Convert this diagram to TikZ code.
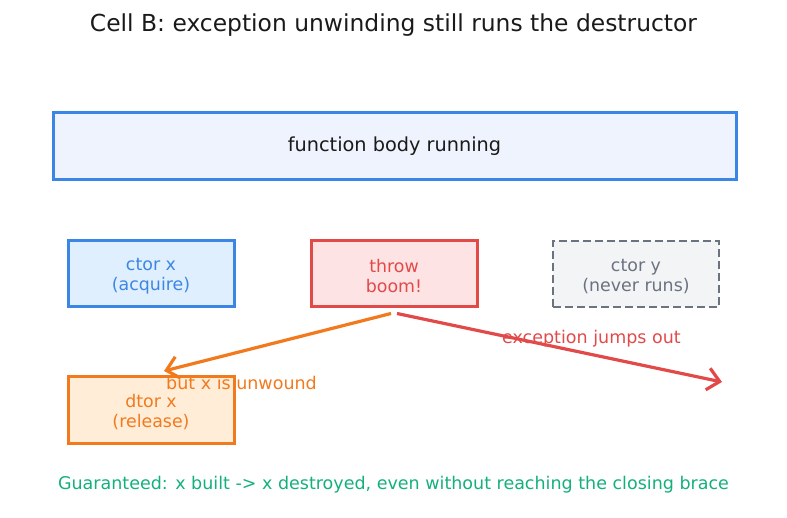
\documentclass[tikz,border=0pt]{standalone}
\usepackage{fontspec}
\setmainfont{DejaVu Sans}
\usetikzlibrary{arrows.meta}
\definecolor{cblue}{HTML}{3B86E5}
\definecolor{cbluefill}{HTML}{EEF3FD}
\definecolor{cbluefill2}{HTML}{E0EFFD}
\definecolor{cred}{HTML}{E24A4A}
\definecolor{credfill}{HTML}{FDE3E3}
\definecolor{cgray}{HTML}{6B7280}
\definecolor{cgrayfill}{HTML}{F3F4F6}
\definecolor{corange}{HTML}{F27A1E}
\definecolor{corangefill}{HTML}{FFEDD8}
\definecolor{cgreen}{HTML}{14B07C}
\definecolor{ctext}{HTML}{1A1A1A}
\begin{document}
\begin{tikzpicture}[x=1pt,y=-1pt,
  box/.style={draw, line width=3pt, minimum width=166pt, minimum height=66pt, align=center, inner sep=0pt, font=\fontsize{17.4}{20.5}\selectfont},
  twoline/.style={text height=37.5pt},
  arr/.style={line width=3.2pt, -{Straight Barb[length=12pt,width=22pt,line width=3.2pt]}},
  lbl/.style={font=\fontsize{17.5}{20.5}\selectfont, inner sep=0pt}]
\useasboundingbox (0,0) rectangle (787,518);
\node[font=\fontsize{23.4}{26}\selectfont, text=ctext] (title) at (393.5,25.5) {Cell B: exception unwinding still runs the destructor};
\node[box, draw=cblue, fill=cbluefill, text=ctext, minimum width=683pt, minimum height=67pt, font=\fontsize{19.3}{21}\selectfont] (body) at (394.5,146.5) {function body running};
\node[box, twoline, draw=cblue, fill=cbluefill2, text=cblue] (ctorx) at (151,274) {ctor x\\(acquire)};
\node[box, twoline, draw=cred, fill=credfill, text=cred] (throw) at (394,274) {throw\\boom!};
\node[box, twoline, draw=cgray, fill=cgrayfill, text=cgray, dashed, dash pattern=on 8pt off 4pt, line width=2.2pt] (ctory) at (636,274) {ctor y\\(never runs)};
\node[box, twoline, draw=corange, fill=corangefill, text=corange] (dtorx) at (151,410) {dtor x\\(release)};
\coordinate (out) at (722,382);
\coordinate (tgt) at (164,371);
\draw[arr, draw=corange] ([xshift=-3pt,yshift=-5pt]throw.south) -- (tgt);
\draw[arr, draw=cred] ([xshift=3pt,yshift=-5pt]throw.south) -- (out);
\node[lbl, text=corange] (l1) at (241.5,383) {but x is unwound};
\node[lbl, text=cred] (l2) at (591.5,338.5) {exception jumps out};
\node[lbl, text=cgreen] (foot) at (393.5,485) {Guaranteed: x built -> x destroyed, even without reaching the closing brace};
\end{tikzpicture}
\end{document}
